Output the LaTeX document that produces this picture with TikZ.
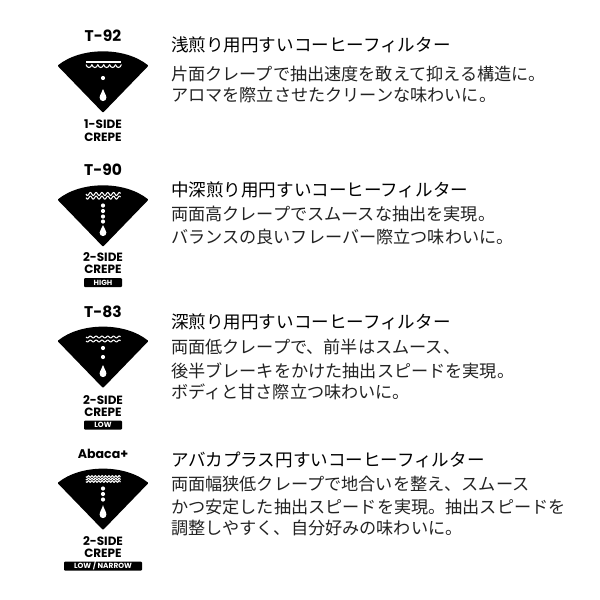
\documentclass[tikz,border=0pt]{standalone}
\usepackage{fontspec}
\setmainfont{Poppins}
\newfontfamily\jpfont{Noto Sans CJK JP}
\newfontfamily\labfont{Poppins}
\definecolor{ink}{HTML}{222222}
\tikzset{
  titletext/.style={anchor=west,inner sep=0pt,text height=14pt,text depth=2pt,text=black,font=\jpfont\fontsize{17.55}{18}\selectfont},
  bodytext/.style={anchor=west,inner sep=0pt,text height=13pt,text depth=2pt,text=ink,font=\jpfont\fontsize{17.15}{18}\selectfont},
  codetext/.style={inner sep=0pt,text=black,font=\labfont\bfseries\fontsize{15.5}{16}\selectfont},
  crepetext/.style={inner sep=0pt,text=black,font=\labfont\bfseries\fontsize{12}{12}\selectfont},
  badgetext/.style={fill=black,text=white,inner sep=0pt,rounded corners=1pt,minimum height=9pt,font=\labfont\bfseries\fontsize{7.4}{8}\selectfont},
  wave/.style={white,line width=1.05pt},
}
\newcommand{\fanshape}[1]{%
  \fill[black,rounded corners=0.8pt] (103,#1) -- (57.5,#1-47)
    .. controls (81,#1-66) and (125,#1-66) .. (148.5,#1-47) -- cycle;}
\newcommand{\dropat}[2]{%
  \fill[white] (103,#1) .. controls (103.6,#1+3) and (106.4,#2-6) .. (106.4,#2-3.4)
    .. controls (106.4,#2-1) and (104.8,#2) .. (103,#2)
    .. controls (101.2,#2) and (99.6,#2-1) .. (99.6,#2-3.4)
    .. controls (99.6,#2-6) and (102.4,#1+3) .. (103,#1) -- cycle;}
\newcommand{\dotat}[1]{\fill[white] (103,#1) circle (2.1pt);}
\newcommand{\waveline}[3]{% y, amplitude, wavelength
  \draw[wave] plot[domain=86:120.5,samples=90,smooth] (\x,{#1+#2*sin((\x-86)*360/#3)});}
\begin{document}
\begin{tikzpicture}[x=1pt,y=-1pt]
\useasboundingbox (0,0) rectangle (600,600);
% ---- T-92
\node[codetext] (c1) at (103,35.7) {T-92};
\fanshape{112.7}
\draw[white,line width=2pt] (86,61.5) -- (121,61.5);
\foreach \i in {0,...,5}{\draw[wave] (86+\i*5.9,64.5) .. controls (87+\i*5.9,68.5) and (90.9+\i*5.9,68.5) .. (91.9+\i*5.9,64.5);}
\dotat{78}
\dropat{89}{101}
\node[crepetext] (s1) at (103,124) {1-SIDE};
\node[crepetext] (k1) at (103,137) {CREPE};
% ---- T-90
\node[codetext] (c2) at (103,170) {T-90};
\fanshape{246.7}
\waveline{194}{1.5}{5.8}
\waveline{197.6}{1.5}{5.8}
\foreach \y in {205.5,211,216.5,221.5}{\dotat{\y}}
\dropat{225}{236}
\node[crepetext] (s2) at (103,257) {2-SIDE};
\node[crepetext] (k2) at (103,269) {CREPE};
\node[badgetext,minimum width=38pt] (b2) at (103,282.5) {HIGH};
% ---- T-83
\node[codetext] (c3) at (103,312) {T-83};
\fanshape{388}
\waveline{337}{0.9}{5.8}
\waveline{341}{0.9}{5.8}
\foreach \y in {348,357}{\dotat{\y}}
\dropat{365}{377}
\node[crepetext] (s3) at (103,400) {2-SIDE};
\node[crepetext] (k3) at (103,412) {CREPE};
\node[badgetext,minimum width=38pt] (b3) at (103,425) {LOW};
% ---- Abaca+
\node[codetext,font=\labfont\bfseries\fontsize{12.6}{13}\selectfont] (c4) at (103,454) {Abaca+};
\fanshape{530}
\waveline{476.5}{0.8}{3.4}
\waveline{479}{0.8}{3.4}
\waveline{481.5}{0.8}{3.4}
\foreach \y in {488.5,494,499.5}{\dotat{\y}}
\dropat{505}{518}
\node[crepetext] (s4) at (103,541) {2-SIDE};
\node[crepetext] (k4) at (103,553) {CREPE};
\node[badgetext,minimum width=78pt] (b4) at (103,566) {LOW / NARROW};
% ---- Text
\node[titletext] (t1) at (171,45.5) {浅煎り用円すいコーヒーフィルター};
\node[bodytext] (l11) at (171,75) {片面クレープで抽出速度を敢えて抑える構造に。};
\node[bodytext] (l12) at (171,96) {アロマを際立させたクリーンな味わいに。};
\node[titletext] (t2) at (171,190) {中深煎り用円すいコーヒーフィルター};
\node[bodytext] (l21) at (171,215) {両面高クレープでスムースな抽出を実現。};
\node[bodytext] (l22) at (171,238) {バランスの良いフレーバー際立つ味わいに。};
\node[titletext] (t3) at (171,322) {深煎り用円すいコーヒーフィルター};
\node[bodytext] (l31) at (171,348) {両面低クレープで、前半はスムース、};
\node[bodytext] (l32) at (171,372) {後半ブレーキをかけた抽出スピードを実現。};
\node[bodytext] (l33) at (171,393) {ボディと甘さ際立つ味わいに。};
\node[titletext] (t4) at (171,460) {アバカプラス円すいコーヒーフィルター};
\node[bodytext] (l41) at (171,485) {両面幅狭低クレープで地合いを整え、スムース};
\node[bodytext] (l42) at (171,508) {かつ安定した抽出スピードを実現。抽出スピードを};
\node[bodytext] (l43) at (171,529) {調整しやすく、自分好みの味わいに。};
\end{tikzpicture}
\end{document}
